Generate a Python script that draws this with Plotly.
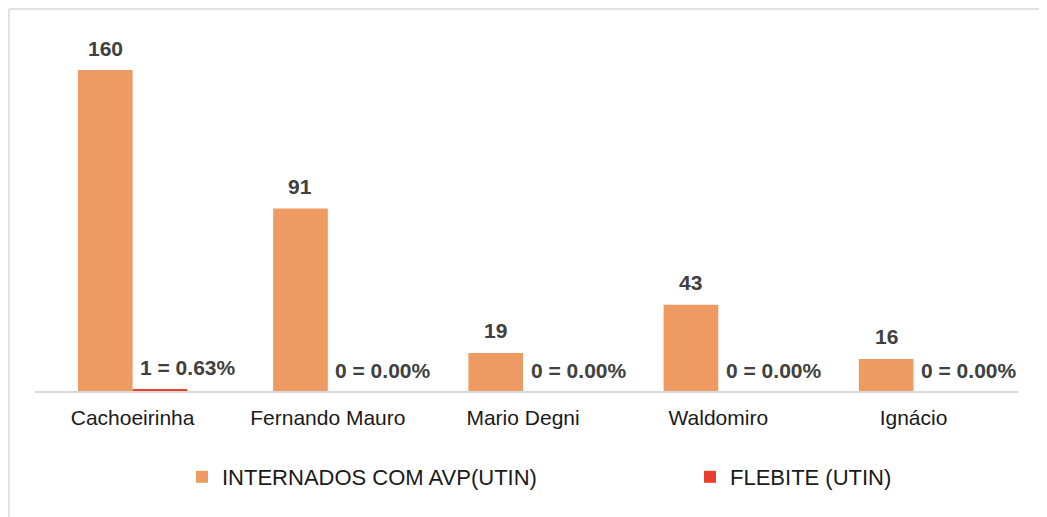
import plotly.graph_objects as go

categories = ["Cachoeirinha", "Fernando Mauro", "Mario Degni", "Waldomiro", "Ignácio"]
internados = [160, 91, 19, 43, 16]
flebite = [1, 0, 0, 0, 0]
flebite_pct = [0.63, 0.00, 0.00, 0.00, 0.00]

ORANGE = "#ED9B63"
RED = "#E8402F"
FONT = "Liberation Sans, Arial, sans-serif"

# The page body has an 8px margin; figure is sized to fit the window.
OFF = 8
W, H = 1047 - OFF, 517 - OFF
ML, MR, MT, MB = 35 - OFF, 29, 20 - OFF, 126
PW = W - ML - MR
PH = H - MT - MB

fig = go.Figure()
fig.add_trace(go.Bar(
    x=categories, y=internados, name="INTERNADOS COM AVP(UTIN)",
    marker=dict(color=ORANGE, line=dict(width=0)), legend="legend",
))
fig.add_trace(go.Bar(
    x=categories, y=flebite, name="FLEBITE (UTIN)",
    marker=dict(color=RED, line=dict(width=0)), legend="legend2",
))

annotations = []
for c, v in zip(categories, internados):
    annotations.append(dict(
        x=c, y=v, xref="x", yref="y", text=f"<b>{v}</b>", showarrow=False,
        xshift=-27.5, yshift=22, yanchor="middle", xanchor="center",
        font=dict(family=FONT, size=21, color="#404040"),
    ))
for c, v, p in zip(categories, flebite, flebite_pct):
    annotations.append(dict(
        x=c, y=v, xref="x", yref="y", text=f"<b>{v} = {p:.2f}%</b>", showarrow=False,
        xshift=55, yshift=21, yanchor="middle", xanchor="center",
        font=dict(family=FONT, size=21, color="#404040"),
    ))

# convert page pixel coordinates to paper coordinates
def px_x(p):
    return (p - OFF - ML) / PW

def px_y(p):
    return (H - MB - (p - OFF)) / PH

shapes = [
    dict(type="line", xref="paper", yref="paper",
         x0=px_x(9), x1=px_x(1047), y0=px_y(9), y1=px_y(9),
         line=dict(color="#D9D9D9", width=1.5)),
    dict(type="line", xref="paper", yref="paper",
         x0=px_x(9), x1=px_x(9), y0=px_y(9), y1=px_y(517),
         line=dict(color="#D9D9D9", width=1.5)),
]

fig.update_layout(
    width=W, height=H,
    margin=dict(l=ML, r=MR, t=MT, b=MB),
    paper_bgcolor="white", plot_bgcolor="white",
    barmode="group", bargap=0.44, bargroupgap=0,
    font=dict(family=FONT, size=21, color="#1a1a1a"),
    xaxis=dict(
        showline=True, linecolor="#D9D9D9", linewidth=1.5,
        ticks="", showgrid=False, zeroline=False, ticklabelstandoff=7,
        tickfont=dict(family=FONT, size=21, color="#1a1a1a"),
    ),
    yaxis=dict(range=[0, PH / 2.006], visible=False, showgrid=False, zeroline=False),
    legend=dict(
        orientation="h", x=px_x(182), y=px_y(477), xanchor="left", yanchor="middle",
        font=dict(family=FONT, size=22, color="#1a1a1a"), bgcolor="rgba(0,0,0,0)",
    ),
    legend2=dict(
        orientation="h", x=px_x(690), y=px_y(477), xanchor="left", yanchor="middle",
        font=dict(family=FONT, size=22, color="#1a1a1a"), bgcolor="rgba(0,0,0,0)",
    ),
    annotations=annotations,
    shapes=shapes,
    showlegend=True,
)

fig.write_html("out.html")
